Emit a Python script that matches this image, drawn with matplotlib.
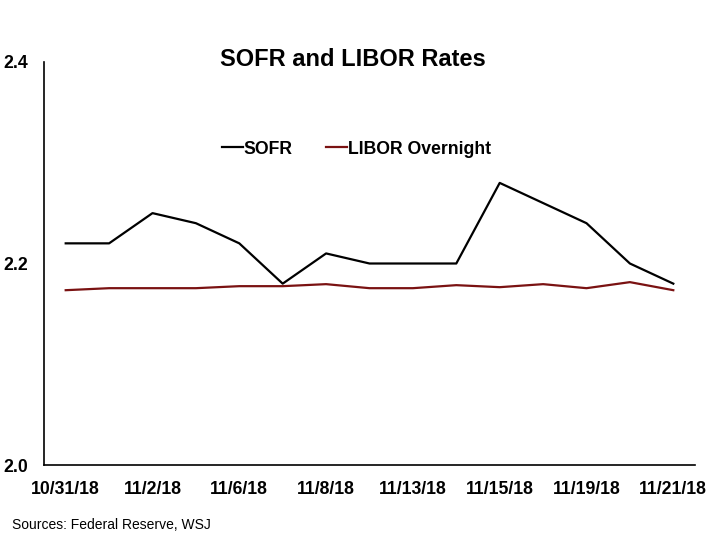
import matplotlib
matplotlib.use("Agg")
import matplotlib.pyplot as plt

dates = ["10/31/18", "11/1/18", "11/2/18", "11/5/18", "11/6/18", "11/7/18", "11/8/18",
         "11/9/18", "11/13/18", "11/14/18", "11/15/18", "11/16/18", "11/19/18",
         "11/20/18", "11/21/18"]
sofr = [2.22, 2.22, 2.25, 2.24, 2.22, 2.18, 2.21, 2.20, 2.20, 2.20, 2.28, 2.26, 2.24, 2.20, 2.18]
libor = [2.1735, 2.1755, 2.1755, 2.1755, 2.1775, 2.1775, 2.1795, 2.1755, 2.1755, 2.1785,
         2.1765, 2.1795, 2.1755, 2.1815, 2.1735]
yticks = [2.0, 2.2, 2.4]

plt.rcParams['font.family'] = ['Liberation Sans', 'DejaVu Sans']

fig = plt.figure(figsize=(7.2, 5.4), dpi=100)
ax = fig.add_axes([44 / 720, 1 - 465 / 540, (695 - 44) / 720, (465 - 62) / 540])

x = list(range(len(dates)))
ax.plot(x, sofr, color='black', lw=1.6, label='SOFR')
ax.plot(x, libor, color='#7a1212', lw=1.6, label='LIBOR Overnight')

ax.set_ylim(2.0, 2.4)
ax.set_xlim(-0.5, len(dates) - 0.5)
ax.set_yticks(yticks)
ax.set_yticklabels([f"{v:.1f}" for v in yticks], fontsize=12.7, fontweight='bold')
ax.set_xticks(x[::2])
ax.set_xticklabels(dates[::2], fontsize=12.7, fontweight='bold')
ax.tick_params(axis='both', length=0)
ax.tick_params(axis='x', pad=11.5)
ax.tick_params(axis='y', pad=11.5)
for s in ['top', 'right']:
    ax.spines[s].set_visible(False)
for s in ['left', 'bottom']:
    ax.spines[s].set_linewidth(1.2)

fig.text(0.490, 0.889, "SOFR and LIBOR Rates", ha='center', va='center',
         fontsize=17, fontweight='bold')
leg = fig.legend(loc='center', bbox_to_anchor=(0.495, 1 - 149 / 540), ncol=2, frameon=False,
                 prop={'size': 12.7, 'weight': 'bold'}, handlelength=1.2,
                 handletextpad=0.05, columnspacing=1.9)
fig.text(0.017, 1 - 525 / 540, "Sources: Federal Reserve, WSJ", fontsize=10,
         ha='left', va='center')

fig.savefig("out.png", dpi=100)
